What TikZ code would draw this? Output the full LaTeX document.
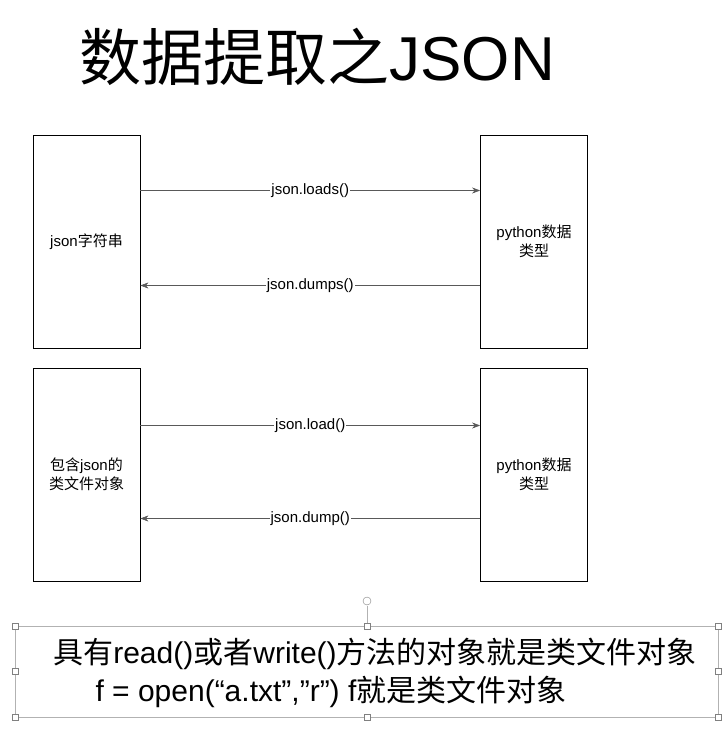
\documentclass[tikz,border=0pt]{standalone}
\usepackage{fontspec}
\usetikzlibrary{arrows.meta}
\setmainfont{Liberation Sans}
\newfontfamily\cjk{Noto Sans CJK SC}
\newcommand\zh[1]{{\cjk #1}}
\begin{document}
\begin{tikzpicture}[x=1pt,y=-1pt,
  box/.style={draw,line width=0.8pt,minimum width=107pt,minimum height=213pt,inner sep=0pt,font=\fontsize{15}{19}\selectfont,align=center},
  arr/.style={-{Stealth[length=8pt,width=6pt]},line width=0.5pt,gray!70!black},
  lab/.style={fill=white,inner sep=1pt,text=black,font=\fontsize{15}{17}\selectfont},
  handle/.style={draw=gray,fill=white,minimum size=6pt,inner sep=0pt}]
\useasboundingbox (0,0) rectangle (726,734);
\fill[white] (0,0) rectangle (726,734);
\node[font=\fontsize{62}{66}\selectfont,anchor=west] (title) at (76,57) {\zh{数据提取之}JSON};
\node[box] (l1) at (86.5,241.5) {json\zh{字符串}};
\node[box] (r1) at (534,241.5) {python\zh{数据}\\\zh{类型}};
\node[box] (l2) at (86.5,474.5) {\zh{包含}json\zh{的}\\\zh{类文件对象}};
\node[box] (r2) at (534,474.5) {python\zh{数据}\\\zh{类型}};
\draw[arr] ([yshift=51pt]l1.east) -- node[lab]{json.loads()} ([yshift=51pt]r1.west);
\draw[arr] ([yshift=-44pt]r1.west) -- node[lab]{json.dumps()} ([yshift=-44pt]l1.east);
\draw[arr] ([yshift=49pt]l2.east) -- node[lab]{json.load()} ([yshift=49pt]r2.west);
\draw[arr] ([yshift=-44pt]r2.west) -- node[lab]{json.dump()} ([yshift=-44pt]l2.east);
\draw[gray!60] (15,626) rectangle (718,717);
\draw[gray!60] (367,626) -- (367,606);
\node[draw=gray,circle,fill=white,minimum size=8pt,inner sep=0pt] (rot) at (367,601) {};
\foreach \x/\y [count=\i] in {15/626,367/626,718/626,15/671.5,718/671.5,15/717,367/717,718/717}
  \node[handle] (h\i) at (\x,\y) {};
\node[font=\fontsize{30}{34}\selectfont,anchor=center] (t1) at (375,654) {\zh{具有}read()\zh{或者}write()\zh{方法的对象就是类文件对象}};
\node[font=\fontsize{30}{34}\selectfont,anchor=west] (t2) at (92,692) {f = open(“a.txt”,”r”) f\zh{就是类文件对象}};
\end{tikzpicture}
\end{document}
